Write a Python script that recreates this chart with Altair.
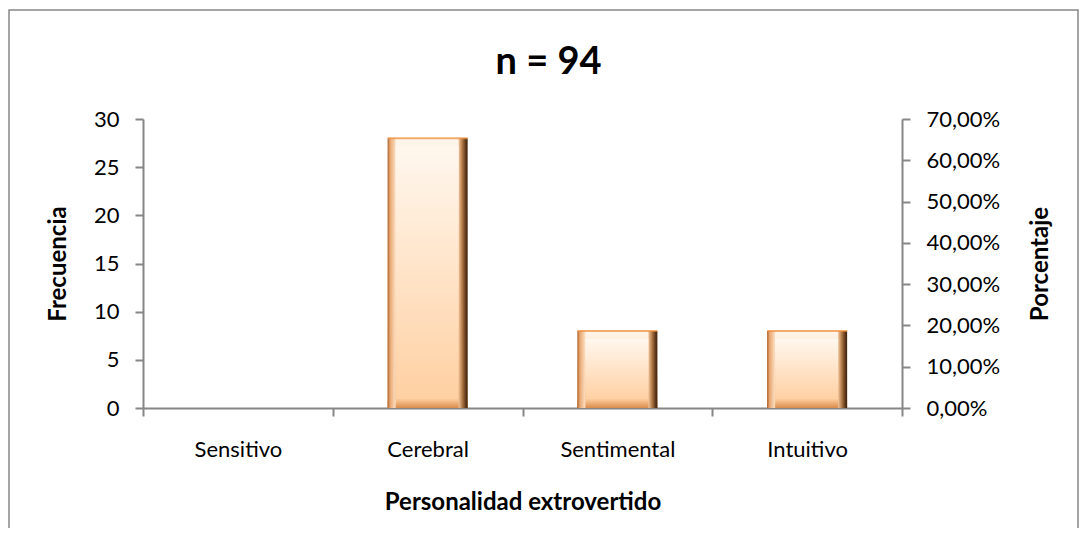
import altair as alt
import pandas as pd

categories = ["Sensitivo", "Cerebral", "Sentimental", "Intuitivo"]
frecuencia = [0, 28, 8, 8]
porcentaje = [0.0, 0.2979, 0.0851, 0.0851]
left_ticks = [0, 5, 10, 15, 20, 25, 30]
right_ticks = [0.0, 0.1, 0.2, 0.3, 0.4, 0.5, 0.6, 0.7]
title_text = "n = 94"
x_title = "Personalidad extrovertido"
y_left_title = "Frecuencia"
y_right_title = "Porcentaje"

df = pd.DataFrame({"cat": categories, "freq": frecuencia, "pct": porcentaje})

FONT = "Lato"
AX = "#868686"
W, H = 759, 289
INSET = 0.85  # bevel inset in frequency units (~8 px)

x_enc = alt.X(
    "cat:N",
    sort=categories,
    scale=alt.Scale(domain=categories, paddingInner=0, paddingOuter=0),
    axis=alt.Axis(
        title=x_title,
        tickBand="extent",
        labelAngle=0,
        labelFont=FONT,
        labelFontSize=22,
        labelColor="black",
        labelPadding=23,
        tickSize=8,
        tickColor=AX,
        domainColor=AX,
        domainWidth=2,
        tickWidth=2,
        titleFont=FONT,
        titleFontSize=24,
        titleFontWeight="bold",
        titleColor="black",
        titleY=101,
        titleBaseline="alphabetic",
    ),
)

y_left = alt.Y(
    "freq:Q",
    scale=alt.Scale(domain=[0, 30], nice=False),
    axis=alt.Axis(
        values=left_ticks,
        title=y_left_title,
        grid=False,
        labelFont=FONT,
        labelFontSize=22,
        labelColor="black",
        labelPadding=16,
        tickSize=8,
        tickColor=AX,
        domainColor=AX,
        domainWidth=2,
        tickWidth=2,
        titleFont=FONT,
        titleFontSize=24,
        titleFontWeight="bold",
        titleColor="black",
        titleX=-85,
        titleY=H / 2,
        titleAngle=270,
        titleBaseline="middle",
        titleAlign="center",
    ),
)

def y_plain(field):
    return alt.Y(field, scale=alt.Scale(domain=[0, 30], nice=False), axis=None)


def hgrad(stops):
    return alt.Gradient(
        gradient="linear", x1=0, x2=1, y1=0, y2=0,
        stops=[alt.GradientStop(offset=o, color=c) for o, c in stops],
    )


def vgrad(stops):
    return alt.Gradient(
        gradient="linear", x1=0, x2=0, y1=0, y2=1,
        stops=[alt.GradientStop(offset=o, color=c) for o, c in stops],
    )


base = alt.Chart(df).transform_filter("datum.freq > 0")

border = alt.Chart(alt.Data(values=[{"k": 1}])).mark_rect(
    fill="white", fillOpacity=0, stroke=AX, strokeWidth=1.5
).encode(
    x=alt.value(-134), x2=alt.value(935), y=alt.value(-109), y2=alt.value(520)
)

outer = base.mark_bar(
    width=80, color=vgrad([(0, "#FFF6EC"), (0.5, "#FBD3AC"), (1, "#E8A468")])
).encode(x=x_enc, y=y_left)

bottom_bevel = base.transform_calculate(bot=f"{INSET}").mark_bar(
    width=80, color=vgrad([(0, "#FAC896"), (1, "#D98C4C")])
).encode(x=x_enc, y=y_plain("bot:Q"))

left_strip = base.mark_bar(
    width=8, xOffset=-36,
    color=hgrad([(0, "#A8602A"), (0.3, "#E9A670"), (1, "#FCE0C4")]),
).encode(x=x_enc, y=y_plain("freq:Q"))

right_strip = base.mark_bar(
    width=9, xOffset=35.5,
    color=hgrad([(0, "#F2C49A"), (0.45, "#A8713F"), (0.8, "#5C361A"), (1, "#3E230E")]),
).encode(x=x_enc, y=y_plain("freq:Q"))

inner = base.transform_calculate(
    top=f"datum.freq - {INSET}", bot=f"{INSET}"
).mark_bar(
    width=63, xOffset=-0.5,
    color=vgrad([(0, "#FFF7EE"), (1, "#FFD0A2")]),
).encode(x=x_enc, y=y_plain("top:Q"), y2="bot:Q")

topline = base.mark_tick(size=80, thickness=2, color="#EE8A34").encode(
    x=x_enc, y=y_plain("freq:Q")
)

right = alt.Chart(df).mark_point(opacity=0).encode(
    x=x_enc,
    y=alt.Y(
        "pct:Q",
        scale=alt.Scale(domain=[0, 0.7], nice=False),
        axis=alt.Axis(
            orient="right",
            values=right_ticks,
            labelExpr="replace(format(datum.value, '.2%'), '.', ',')",
            title=y_right_title,
            grid=False,
            labelFont=FONT,
            labelFontSize=22,
            labelColor="black",
            labelPadding=16,
            tickSize=8,
            tickColor=AX,
            domainColor=AX,
            domainWidth=2,
            tickWidth=2,
            titleFont=FONT,
            titleFontSize=24,
            titleFontWeight="bold",
            titleColor="black",
            titleX=138,
            titleY=H / 2,
            titleAngle=270,
            titleBaseline="middle",
            titleAlign="center",
        ),
    ),
)

chart = (
    alt.layer(border, outer, bottom_bevel, left_strip, right_strip, inner, topline, right)
    .resolve_scale(y="independent")
    .properties(
        width=W,
        height=H,
        autosize=alt.AutoSizeParams(type="none"),
        padding={"left": 135, "top": 111, "right": 178, "bottom": 120},
        title=alt.TitleParams(
            title_text,
            font=FONT,
            fontSize=38,
            fontWeight="bold",
            color="black",
            anchor="middle",
            frame="group",
            baseline="alphabetic",
            offset=0,
            dy=103,
            dx=26,
        ),
        background="white",
    )
    .configure_view(strokeWidth=0)
)

chart.save("out.html", embed_options={"renderer": "svg", "actions": False})
